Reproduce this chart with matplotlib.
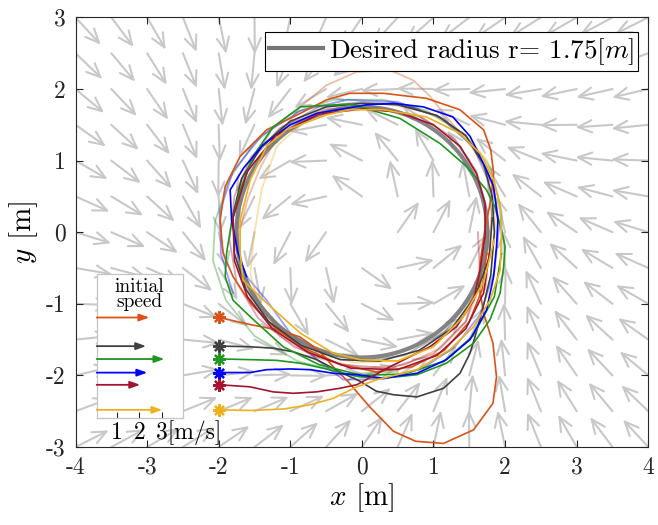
import numpy as np
import matplotlib
matplotlib.use("Agg")
import matplotlib.pyplot as plt
from matplotlib.patches import FancyArrowPatch
from matplotlib.lines import Line2D
from matplotlib.transforms import blended_transform_factory

plt.rcParams['font.family'] = ['cmr10', 'DejaVu Serif']
plt.rcParams['mathtext.fontset'] = 'cm'
plt.rcParams['axes.unicode_minus'] = False
plt.rcParams['axes.formatter.use_mathtext'] = True

# ---------------- data ----------------
desired_radius = 1.75
field_gain = 0.25

x_ticks = [-4, -3, -2, -1, 0, 1, 2, 3, 4]
x_tick_labels = ['-4', '-3', '-2', '-1', '0', '1', '2', '3', '4']
y_ticks = [-3, -2, -1, 0, 1, 2, 3]
y_tick_labels = ['-3', '-2', '-1', '0', '1', '2', '3']

traj_colors = ['#D95319', '#404040', '#1F961F', '#0000FF', '#A2142F', '#EDB120']
start_x = [-2.0, -2.0, -2.0, -2.0, -2.0, -2.0]
start_y = [-1.19, -1.59, -1.77, -1.96, -2.13, -2.48]
initial_speed = [2.43, 2.29, 3.09, 2.34, 2.03, 3.00]

inset_ticks = [1, 2, 3]
inset_tick_labels = ['1', '2', '3[m/s]']

# trajectories: dark (first) part and faded (later) part
orange_x = [-2.00, -1.56, -1.20, -0.87, -0.60, -0.40, -0.20, 0.11, 0.44, 0.75, 1.14, 1.56, 1.83, 1.88, 1.83,
            1.70, 1.63, 1.65, 1.72, 1.80, 1.84, 1.80, 1.70, 1.37, 0.90, 0.30, -0.17, -0.49, -0.86, -1.33,
            -1.70, -1.91, -1.98, -1.94, -1.80, -1.55, -1.20, -0.80, -0.30, 0.20, 0.70, 1.15, 1.50, 1.68, 1.74]
orange_y = [-1.19, -1.29, -1.36, -1.46, -1.65, -1.88, -2.08, -2.44, -2.78, -2.92, -2.95, -2.76, -2.39, -2.02, -1.55,
            -1.13, -0.71, -0.43, 0.05, 0.45, 0.82, 1.15, 1.43, 1.71, 1.87, 1.94, 1.94, 1.85, 1.66, 1.43,
            1.06, 0.64, 0.17, -0.29, -0.62, -1.00, -1.35, -1.62, -1.85, -1.95, -1.88, -1.65, -1.25, -0.80, -0.30]
orange_fade_x = [1.74, 1.80, 1.84, 1.70, 1.45, 1.18, 0.95, 0.72, 0.40, -0.07, -0.50, -0.86, -1.20, -1.42, -1.60,
                 -1.72, -1.70, -1.50, -1.15, -0.65, 0.00, 0.60, 1.10, 1.45, 1.65, 1.70]
orange_fade_y = [-0.30, 0.10, 0.59, 0.96, 1.30, 1.61, 1.90, 2.12, 2.26, 2.24, 2.05, 1.75, 1.30, 0.90, 0.45,
                 -0.05, -0.55, -1.05, -1.45, -1.75, -1.90, -1.85, -1.62, -1.25, -0.75, -0.20]

gray_x = [-2.00, -1.56, -1.24, -0.96, -0.63, -0.31, -0.03, 0.20, 0.44, 0.77, 1.14, 1.37, 1.51, 1.58, 1.68,
          1.80, 1.85, 1.82, 1.70, 1.45, 1.05, 0.50, 0.00, -0.50, -1.00, -1.40, -1.68, -1.80, -1.78, -1.62,
          -1.30, -0.85, -0.30, 0.25, 0.80, 1.25, 1.58, 1.78, 1.82]
gray_y = [-1.59, -1.60, -1.62, -1.67, -1.78, -1.95, -2.08, -2.22, -2.27, -2.30, -2.18, -1.97, -1.69, -1.46, -1.10,
          -0.60, 0.00, 0.50, 0.95, 1.35, 1.63, 1.78, 1.80, 1.75, 1.55, 1.20, 0.75, 0.25, -0.30, -0.80,
          -1.25, -1.58, -1.78, -1.80, -1.65, -1.35, -0.90, -0.35, 0.20]
gray_fade_x = [1.82, 1.75, 1.55, 1.15, 0.60, 0.00, -0.60, -1.15, -1.55, -1.75, -1.75, -1.55, -1.15, -0.60, 0.00,
               0.60, 1.15, 1.55, 1.75]
gray_fade_y = [0.20, 0.75, 1.20, 1.58, 1.78, 1.82, 1.75, 1.45, 1.00, 0.40, -0.25, -0.85, -1.32, -1.65, -1.80,
               -1.72, -1.40, -0.90, -0.30]

green_x = [-2.00, -1.56, -1.19, -0.86, -0.54, -0.26, -0.03, 0.30, 0.77, 1.18, 1.56, 1.79, 1.93, 1.98, 2.00,
           1.95, 1.86, 1.74, 1.46, 1.09, 0.53, -0.17, -0.86, -1.24, -1.52, -1.70, -1.82, -1.89, -1.91, -1.80,
           -1.56, -1.10, -0.60, 0.00, 0.60, 1.15, 1.55, 1.85, 1.95]
green_y = [-1.77, -1.78, -1.79, -1.83, -1.90, -1.97, -2.02, -2.04, -1.99, -1.83, -1.55, -1.22, -0.85, -0.48, -0.20,
           0.03, 0.35, 0.59, 0.92, 1.24, 1.59, 1.79, 1.75, 1.47, 1.06, 0.59, 0.13, -0.29, -0.62, -0.95,
           -1.18, -1.60, -1.85, -2.00, -1.98, -1.80, -1.45, -0.90, -0.30]
green_fade_x = [1.95, 1.95, 1.80, 1.45, 0.90, 0.30, -0.40, -1.00, -1.50, -1.85, -2.05, -2.08, -1.90, -1.50,
                -0.90, -0.20, 0.50]
green_fade_y = [-0.30, 0.30, 0.90, 1.35, 1.70, 1.85, 1.85, 1.65, 1.25, 0.75, 0.15, -0.40, -0.95, -1.45,
                -1.80, -1.98, -1.95]

blue_x = [-2.00, -1.56, -1.33, -1.00, -0.72, -0.40, -0.07, 0.30, 0.77, 1.18, 1.51, 1.74, 1.84, 1.88, 1.90,
          1.84, 1.70, 1.51, 1.27, 0.86, 0.44, 0.07, -0.63, -1.00, -1.38, -1.65, -1.84, -1.82, -1.73, -1.61]
blue_y = [-1.96, -1.96, -1.92, -1.91, -1.92, -1.97, -1.99, -2.04, -1.97, -1.78, -1.50, -1.09, -0.62, -0.20, 0.17,
          0.64, 0.96, 1.34, 1.61, 1.75, 1.80, 1.78, 1.66, 1.50, 1.22, 0.90, 0.59, 0.17, -0.29, -0.62]
blue_fade_x = [-1.61, -1.33, -1.00, -0.63, -0.26, 0.30, 0.85, 1.30, 1.65, 1.85, 1.92, 1.82, 1.55, 1.10, 0.50,
               -0.20, -0.85, -1.40, -1.80, -1.98, -1.97, -1.80]
blue_fade_y = [-0.62, -0.95, -1.41, -1.78, -2.06, -2.05, -1.90, -1.60, -1.15, -0.55, 0.10, 0.70, 1.20, 1.60, 1.82,
               1.85, 1.70, 1.35, 0.85, 0.30, -0.30, -0.85]

crimson_x = [-2.00, -1.56, -1.24, -0.96, -0.63, -0.31, -0.07, 0.39, 0.95, 1.32, 1.56, 1.65, 1.72, 1.72, 1.60,
             1.37, 1.00, 0.50, 0.00, -0.60, -1.20, -1.60, -1.80, -1.78, -1.60, -1.25, -0.75, -0.15, 0.50, 1.05,
             1.45, 1.70, 1.78]
crimson_y = [-2.13, -2.16, -2.23, -2.25, -2.23, -2.18, -2.13, -1.88, -1.60, -1.32, -0.95, -0.53, -0.05, 0.40, 0.82,
             1.20, 1.50, 1.68, 1.72, 1.65, 1.35, 0.85, 0.20, -0.40, -0.90, -1.35, -1.68, -1.90, -1.92, -1.72,
             -1.35, -0.85, -0.30]
crimson_fade_x = [1.78, 1.75, 1.60, 1.30, 0.80, 0.20, -0.50, -1.10, -1.55, -1.78, -1.85, -1.75, -1.45, -0.95,
                  -0.30, 0.40, 1.00, 1.45, 1.65, 1.62]
crimson_fade_y = [-0.30, 0.30, 0.85, 1.30, 1.62, 1.75, 1.72, 1.48, 1.05, 0.50, -0.10, -0.70, -1.20, -1.60,
                  -1.85, -1.90, -1.70, -1.25, -0.60, 0.00]

yellow_x = [-2.00, -1.56, -1.10, -0.72, -0.40, -0.07, 0.21, 0.77, 1.23, 1.56, 1.79, 1.93, 1.95, 1.93, 1.84,
            1.65, 1.37, 0.90, 0.30, -0.17, -0.49, -1.05, -1.33, -1.56, -1.70, -1.70, -1.66, -1.33, -0.86, -0.40,
            -0.03, 0.50, 1.00, 1.40, 1.70, 1.85]
yellow_y = [-2.48, -2.49, -2.47, -2.41, -2.32, -2.16, -2.06, -1.92, -1.64, -1.32, -0.95, -0.53, -0.06, 0.36, 0.73,
            1.10, 1.38, 1.61, 1.71, 1.71, 1.64, 1.43, 1.20, 0.73, 0.17, -0.29, -0.67, -0.99, -1.41, -1.69,
            -1.78, -1.80, -1.60, -1.20, -0.70, -0.10]
yellow_fade_x = [1.85, 1.90, 1.75, 1.40, 0.90, 0.30, -0.30, -0.80, -1.19, -1.40, -1.50, -1.56, -1.45, -1.15,
                 -0.70, -0.10, 0.50, 1.05, 1.45, 1.70, 1.78]
yellow_fade_y = [-0.10, 0.50, 1.00, 1.40, 1.68, 1.80, 1.75, 1.55, 1.20, 0.60, 0.00, -0.57, -1.00, -1.40,
                 -1.68, -1.82, -1.80, -1.55, -1.15, -0.60, 0.00]

dark_paths = [(orange_x, orange_y), (gray_x, gray_y), (green_x, green_y),
              (blue_x, blue_y), (crimson_x, crimson_y), (yellow_x, yellow_y)]
fade_paths = [(orange_fade_x, orange_fade_y), (gray_fade_x, gray_fade_y), (green_fade_x, green_fade_y),
              (blue_fade_x, blue_fade_y), (crimson_fade_x, crimson_fade_y), (yellow_fade_x, yellow_fade_y)]

# ---------------- figure ----------------
W, H = 658, 525
fig = plt.figure(figsize=(W / 100, H / 100), dpi=100)
ax = fig.add_axes([75.5 / W, (H - 447) / H, 572.8 / W, 429.6 / H])
ax.set_xlim(-4, 4)
ax.set_ylim(-3, 3)

# guiding vector field (normalised arrows)
arrow_len = 0.52
gx = np.arange(-4, 4.01, 0.5)
gy = np.arange(-3, 3.01, 0.5)
for xx in gx:
    for yy in gy:
        d = np.hypot(xx, yy)
        if d < 1e-9:
            continue
        nx, ny = xx / d, yy / d
        tx, ty = -ny, nx
        phi = xx ** 2 + yy ** 2 - desired_radius ** 2
        vx = tx - field_gain * phi * nx
        vy = ty - field_gain * phi * ny
        nv = np.hypot(vx, vy)
        vx, vy = vx / nv, vy / nv
        arr = FancyArrowPatch((xx, yy), (xx + arrow_len * vx, yy + arrow_len * vy),
                              arrowstyle='->,head_length=0.5,head_width=0.22',
                              mutation_scale=20, color='#c8c8c8', lw=1.5,
                              shrinkA=0, shrinkB=0, zorder=1)
        ax.add_patch(arr)

# faded later laps
for (px, py), c in zip(fade_paths, traj_colors):
    ax.plot(px, py, color=c, lw=1.3, alpha=0.38, zorder=2, solid_joinstyle='round')

# desired circle
th = np.linspace(0, 2 * np.pi, 361)
ax.plot(desired_radius * np.cos(th), desired_radius * np.sin(th), color='#777777', lw=3, alpha=0.9, zorder=3)

# first part of trajectories
for (px, py), c in zip(dark_paths, traj_colors):
    ax.plot(px, py, color=c, lw=1.2, zorder=4, solid_joinstyle='round')

# start markers
for sx, sy, c in zip(start_x, start_y, traj_colors):
    ax.plot(sx, sy, marker=(8, 2, 0), ms=9, mew=1.6, color=c, zorder=5, linestyle='none')

ax.set_xticks(x_ticks)
ax.set_xticklabels(x_tick_labels)
ax.set_yticks(y_ticks)
ax.set_yticklabels(y_tick_labels)
ax.tick_params(direction='in', top=True, right=True, length=5, width=0.8, labelsize=17,
               colors='#262626', pad=7)
for s in ax.spines.values():
    s.set_color('#262626')
    s.set_linewidth(0.8)
ax.set_xlabel(r'$x$ [m]', fontsize=21, labelpad=2)
ax.set_ylabel(r'$y$ [m]', fontsize=21, labelpad=4)

# legend
h = Line2D([], [], color='#777777', lw=3)
leg = ax.legend([h], [r'Desired radius r= 1.75[$m$]'], loc='upper right',
                bbox_to_anchor=(638 / W, (H - 31.7) / H), bbox_transform=fig.transFigure,
                borderaxespad=0, fontsize=19.5, frameon=True, fancybox=False,
                edgecolor='black', framealpha=1, handlelength=2.0, handletextpad=0.2,
                borderpad=0.15)
leg.get_frame().set_linewidth(0.8)
leg.set_zorder(10)

# inset: initial speed
y_top = 3 - (274 - 17.5) / 71.6
y_bot = 3 - (418 - 17.5) / 71.6
axi = fig.add_axes([96.7 / W, (H - 418) / H, 86 / W, 144 / H])
axi.set_xlim(0.123, 3.895)
axi.set_ylim(y_bot, y_top)
axi.set_facecolor('white')
for s in axi.spines.values():
    s.set_color('#c4c4c4')
    s.set_linewidth(0.9)
axi.set_yticks([])
axi.set_xticks(inset_ticks)
axi.set_xticklabels([])
axi.tick_params(axis='x', direction='in', length=4, width=0.8, colors='#262626')
for sp, sy, c in zip(initial_speed, start_y, traj_colors):
    axi.annotate('', xy=(sp, sy), xytext=(0.123, sy),
                 arrowprops=dict(arrowstyle='-|>,head_length=0.5,head_width=0.18', color=c, lw=1.3,
                                 shrinkA=0, shrinkB=0, mutation_scale=12))
tr = blended_transform_factory(axi.transData, axi.transAxes)
for v, lab in zip(inset_ticks, inset_tick_labels):
    if len(lab) > 1:
        axi.annotate(lab, xy=(v, 0), xycoords=tr, xytext=(-4.2, -15), textcoords='offset points',
                     ha='left', va='baseline', fontsize=17, annotation_clip=False)
    else:
        axi.annotate(lab, xy=(v, 0), xycoords=tr, xytext=(0, -15), textcoords='offset points',
                     ha='center', va='baseline', fontsize=17, annotation_clip=False)
axi.text(0.5, 0.975, 'initial\nspeed', transform=axi.transAxes, ha='center', va='top',
         fontsize=14, linespacing=0.82)

fig.savefig('out.png', dpi=100)
